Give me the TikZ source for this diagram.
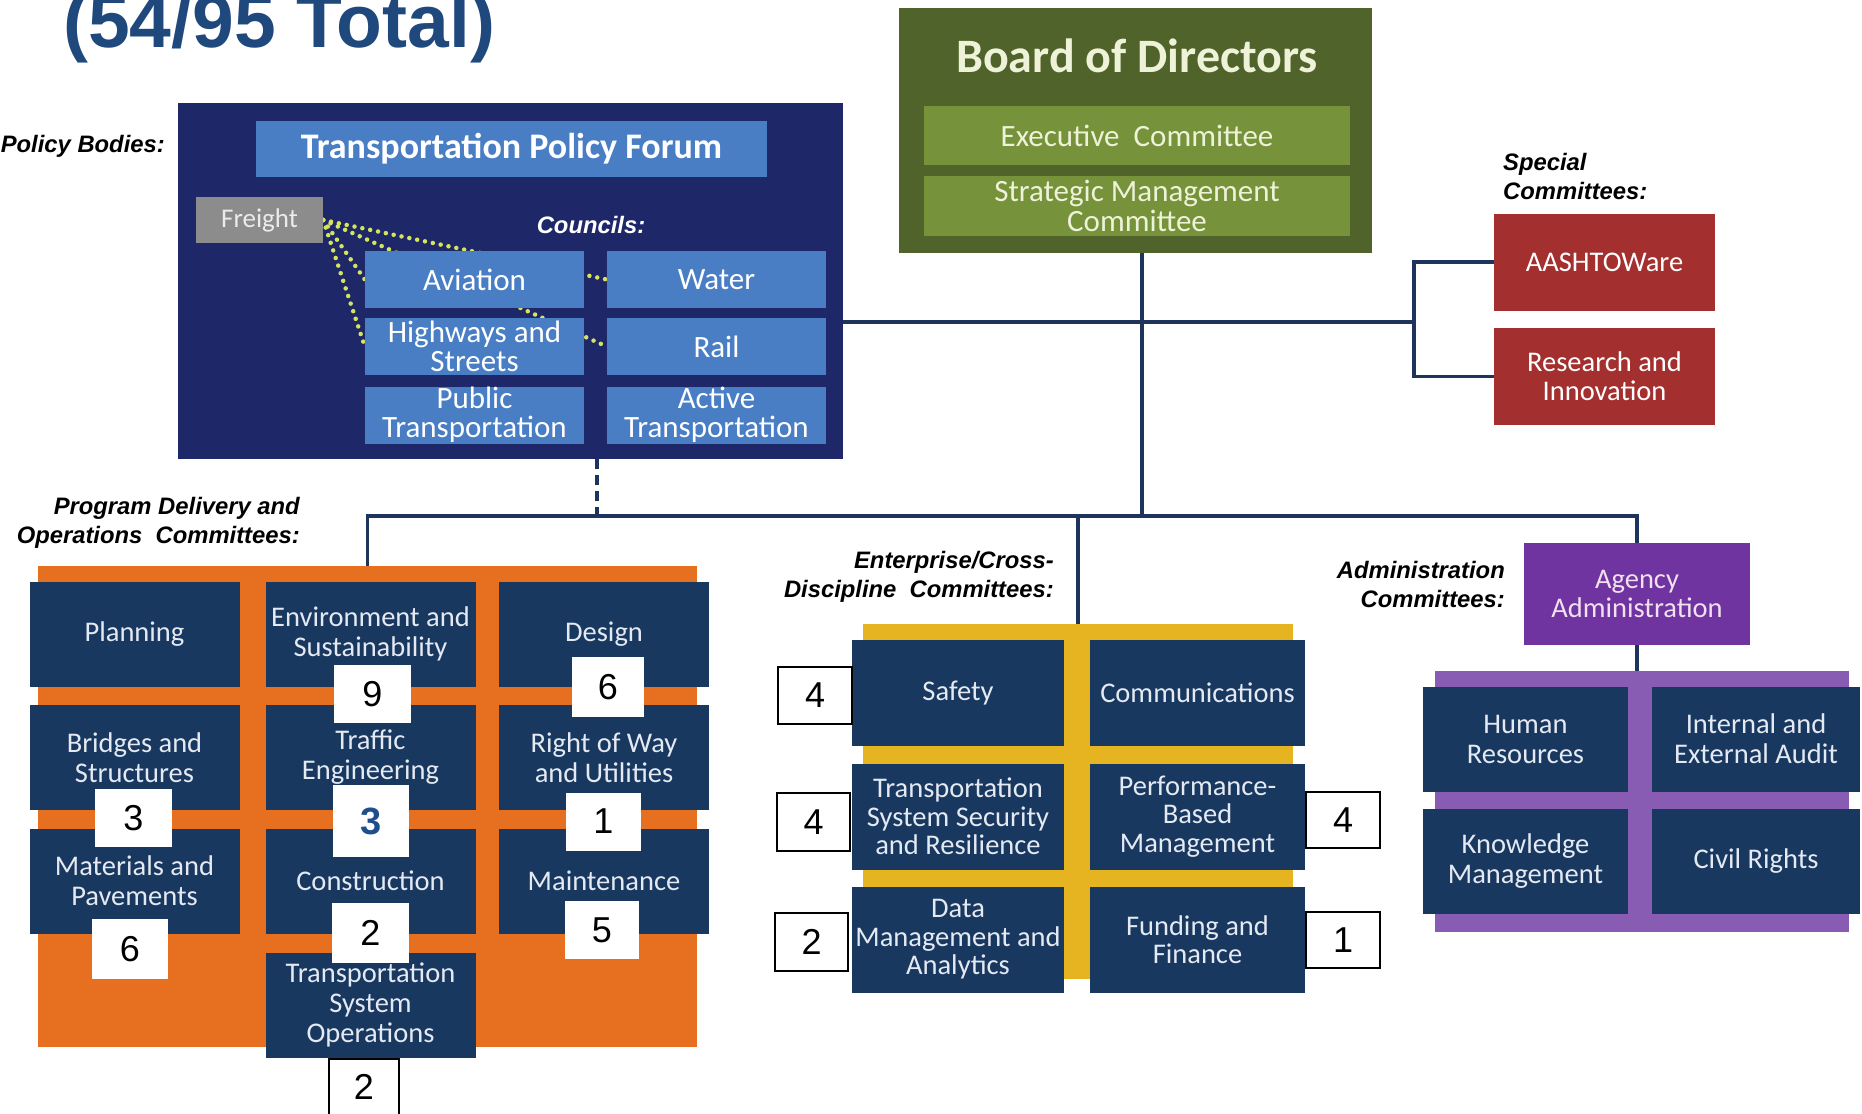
\documentclass[tikz,border=0pt]{standalone}
\usepackage{fontspec}
\usepackage{tikz}
\usetikzlibrary{positioning}

\newfontfamily\boxfont{Carlito}
\newfontfamily\labfont{Liberation Sans}

\pgfdeclarelayer{back}
\pgfdeclarelayer{wires}
\pgfsetlayers{back,wires,main}

\definecolor{navy}{RGB}{24,56,96}
\definecolor{policynavy}{RGB}{30,40,104}
\definecolor{councilblue}{RGB}{73,126,196}
\definecolor{freightgray}{RGB}{140,140,140}
\definecolor{boardgreen}{RGB}{80,99,42}
\definecolor{execgreen}{RGB}{118,146,58}
\definecolor{exectext}{RGB}{238,242,216}
\definecolor{specialred}{RGB}{163,47,46}
\definecolor{progorange}{RGB}{230,112,32}
\definecolor{entyellow}{RGB}{230,180,32}
\definecolor{agencypurple}{RGB}{112,52,160}
\definecolor{adminpurple}{RGB}{136,92,178}
\definecolor{linkblue}{RGB}{30,52,92}
\definecolor{titleblue}{RGB}{31,73,125}
\definecolor{dotyellow}{RGB}{214,228,92}
\definecolor{boxtext}{RGB}{228,233,242}
\definecolor{threeblue}{RGB}{31,78,140}

\begin{document}
\begin{tikzpicture}[x=1pt,y=-1pt,
	cmte/.style={fill=navy, text=boxtext, minimum width=210pt, minimum height=105pt, inner sep=0pt, align=center, font=\boxfont\fontsize{28.5}{30}\selectfont},
	council/.style={fill=councilblue, text=white, minimum width=219pt, minimum height=57pt, inner sep=0pt, align=center, font=\boxfont\fontsize{31}{29}\selectfont},
	special/.style={fill=specialred, text=white, minimum width=221pt, minimum height=97pt, inner sep=0pt, align=center, font=\boxfont\fontsize{28.5}{29}\selectfont},
	numbox/.style={fill=white, text=black, minimum width=74pt, minimum height=58pt, inner sep=0pt, font=\labfont\fontsize{36}{36}\selectfont},
	numframe/.style={numbox, draw=black, line width=1.5pt},
	sectlab/.style={inner sep=0pt, font=\labfont\bfseries\itshape\fontsize{23.8}{29}\selectfont},
	panel/.style={inner sep=0pt},
	link/.style={draw=linkblue, line width=3.5pt},
	dotlink/.style={draw=dotyellow, line width=4.5pt, line cap=round, dash pattern=on 0pt off 8pt}]

\useasboundingbox (0,0) rectangle (1862,1113);

\node[anchor=base west, inner sep=0pt, text=titleblue, font=\labfont\bfseries\fontsize{75}{75}\selectfont] (title) at (63,47.5) {(54/95 Total)};

% panels behind the committees
\begin{pgfonlayer}{back}
	\fill[white] (0,0) rectangle (1862,1113);
	\node[panel, fill=policynavy, minimum width=665pt, minimum height=356pt] (policy) at (510.5,281) {};
	\node[panel, fill=progorange, minimum width=659pt, minimum height=481pt] (progpanel) at (367.5,806.5) {};
	\node[panel, fill=entyellow, minimum width=430pt, minimum height=355pt] (entpanel) at (1078,801.5) {};
	\node[panel, fill=adminpurple, minimum width=414pt, minimum height=261pt] (adminpanel) at (1642,801.5) {};
\end{pgfonlayer}

% policy bodies
\node[sectlab, anchor=east] (policylab) at (165,146) {Policy Bodies:};
\node[fill=councilblue, text=white, minimum width=511pt, minimum height=56pt, inner sep=0pt, font=\boxfont\bfseries\fontsize{36}{36}\selectfont] (tpf) at (511.5,149) {Transportation Policy Forum};
\node[fill=freightgray, text=black!8, minimum width=127pt, minimum height=46pt, inner sep=0pt, font=\boxfont\fontsize{27}{27}\selectfont] (freight) at (259.5,220) {Freight};
\node[sectlab, text=white] (councillab) at (591,225) {Councils:};
	\node[council] (aviation) at (474.5,279.5) {Aviation};
	\node[council] (water) at (716.5,279.5) {Water};
	\node[council] (highways) at (474.5,346.5) {Highways and\\Streets};
	\node[council] (rail) at (716.5,346.5) {Rail};
	\node[council] (pubtrans) at (474.5,415) {Public\\Transportation};
	\node[council] (acttrans) at (716.5,415) {Active\\Transportation};

\begin{pgfonlayer}{wires}
	\draw[dotlink] (freight.east) -- (aviation.west);
	\draw[dotlink] (freight.east) -- (highways.west);
	\draw[dotlink] (freight.east) -- (water.west);
	\draw[dotlink] (freight.east) -- (rail.west);
\end{pgfonlayer}

% board
\node[panel, fill=boardgreen, minimum width=473pt, minimum height=245pt] (board) at (1135.5,130.5) {};
\node[anchor=base, inner sep=0pt, text=exectext, font=\boxfont\bfseries\fontsize{48}{48}\selectfont] (boardlab) at (1137,73) {Board of Directors};
\node[fill=execgreen, text=exectext, minimum width=426pt, minimum height=59pt, inner sep=0pt, font=\boxfont\fontsize{31}{30}\selectfont] (exec) at (1137,135.5) {Executive~ Committee};
\node[fill=execgreen, text=exectext, minimum width=426pt, minimum height=60pt, inner sep=0pt, align=center, font=\boxfont\fontsize{31}{30}\selectfont] (strategic) at (1137,206) {Strategic Management\\Committee};

% special committees
\node[sectlab, align=left, anchor=west] (speciallab) at (1503,176) {Special\\Committees:};
	\node[special] (aashtoware) at (1604.5,262) {AASHTOWare};
	\node[special] (research) at (1604.5,376.5) {Research and\\Innovation};

% program delivery and operations
\node[sectlab, align=right, anchor=east] (proglab) at (300,523) {Program Delivery and\\Operations~ Committees:};
	\node[cmte] (planning) at (134.5,634) {Planning};
	\node[cmte] (envsust) at (370.5,634) {Environment and\\Sustainability};
	\node[cmte] (design) at (604,634) {Design};
	\node[cmte] (bridges) at (134.5,757.5) {Bridges and\\Structures};
	\node[cmte] (traffic) at (370.5,757.5) {Traffic\\Engineering};
	\node[cmte] (rowutil) at (604,757.5) {Right of Way\\and Utilities};
	\node[cmte] (materials) at (134.5,881) {Materials and\\Pavements};
	\node[cmte] (construction) at (370.5,881) {Construction};
	\node[cmte] (maintenance) at (604,881) {Maintenance};
	\node[cmte] (tsops) at (370.5,1005) {Transportation\\System\\Operations};

	\node[numbox, minimum width=77pt] (nenv) at (372.5,694) {9};
	\node[numbox, minimum width=72pt, minimum height=60pt] (ndesign) at (608,687) {6};
	\node[numbox, minimum width=77pt] (nbridges) at (133.5,818) {3};
	\node[numbox, minimum width=76pt, minimum height=72pt, text=threeblue, font=\labfont\bfseries\fontsize{38}{38}\selectfont] (ntraffic) at (371,821) {3};
	\node[numbox, minimum width=75pt] (nrow) at (603.5,821.5) {1};
	\node[numbox, minimum width=76pt, minimum height=60pt] (nmaterials) at (130,949) {6};
	\node[numbox, minimum width=77pt, minimum height=60pt] (nconstr) at (370.5,933) {2};
	\node[numbox] (nmaint) at (602,930) {5};
	\node[numframe, minimum width=70pt, minimum height=56pt] (ntsops) at (364,1087) {2};

% enterprise / cross-discipline
\node[sectlab, align=right, anchor=east] (entlab) at (1054,577) {Enterprise/Cross-\\Discipline~ Committees:};
	\node[cmte, minimum width=212pt, minimum height=106pt, font=\boxfont\fontsize{28.5}{28.5}\selectfont] (safety) at (958,693) {Safety};
	\node[cmte, minimum width=215pt, minimum height=106pt, font=\boxfont\fontsize{28.5}{28.5}\selectfont] (comms) at (1197.5,693) {Communications};
	\node[cmte, minimum width=212pt, minimum height=106pt, font=\boxfont\fontsize{28.5}{28.5}\selectfont] (tssr) at (958,816.5) {Transportation\\System Security\\and Resilience};
	\node[cmte, minimum width=215pt, minimum height=106pt, font=\boxfont\fontsize{28.5}{28.5}\selectfont] (pbm) at (1197.5,816.5) {Performance-\\Based\\Management};
	\node[cmte, minimum width=212pt, minimum height=106pt, font=\boxfont\fontsize{28.5}{28.5}\selectfont] (datamgmt) at (958,939.5) {Data\\Management and\\Analytics};
	\node[cmte, minimum width=215pt, minimum height=106pt, font=\boxfont\fontsize{28.5}{28.5}\selectfont] (funding) at (1197.5,939.5) {Funding and\\Finance};

	\node[numframe, minimum height=57pt] (nsafety) at (815,695.5) {4};
	\node[numframe, minimum width=73pt] (ntssr) at (813.5,822) {4};
	\node[numframe, minimum width=73pt] (ndata) at (811.5,942) {2};
	\node[numframe, minimum height=56pt] (npbm) at (1343,820) {4};
	\node[numframe, minimum height=56pt] (nfunding) at (1343,940) {1};

% administration
\node[sectlab, align=right, anchor=east] (adminlab) at (1505,584) {Administration\\Committees:};
\node[fill=agencypurple, text=violet!12, minimum width=226pt, minimum height=102pt, inner sep=0pt, align=center, font=\boxfont\fontsize{28.5}{29}\selectfont] (agency) at (1637,594) {Agency\\Administration};
	\node[cmte, minimum width=205pt] (humanres) at (1525.5,739) {Human\\Resources};
	\node[cmte, minimum width=208pt] (audit) at (1756,739) {Internal and\\External Audit};
	\node[cmte, minimum width=205pt] (knowledge) at (1525.5,861.5) {Knowledge\\Management};
	\node[cmte, minimum width=208pt] (civilrights) at (1756,861.5) {Civil Rights};

% connectors
\coordinate (hub) at (1142,516);
\coordinate (spec) at (1414,322);
\coordinate (dash) at (597,459);
\begin{pgfonlayer}{wires}
	\draw[link] (board.south -| hub) -- (hub);
	\draw[link] (policy.east |- spec) -- (spec);
	\draw[link] (aashtoware.west) -| (spec) |- (research.west);
	\draw[link] (progpanel.north) |- (agency.north |- hub) -- (agency.north);
	\draw[link] (entpanel.north) -- (entpanel.north |- hub);
	\draw[link] (agency.south) -- (agency.south |- adminpanel.north);
	\draw[link, dash pattern=on 10pt off 6pt] (dash) -- (dash |- hub);
\end{pgfonlayer}
\end{tikzpicture}
\end{document}
